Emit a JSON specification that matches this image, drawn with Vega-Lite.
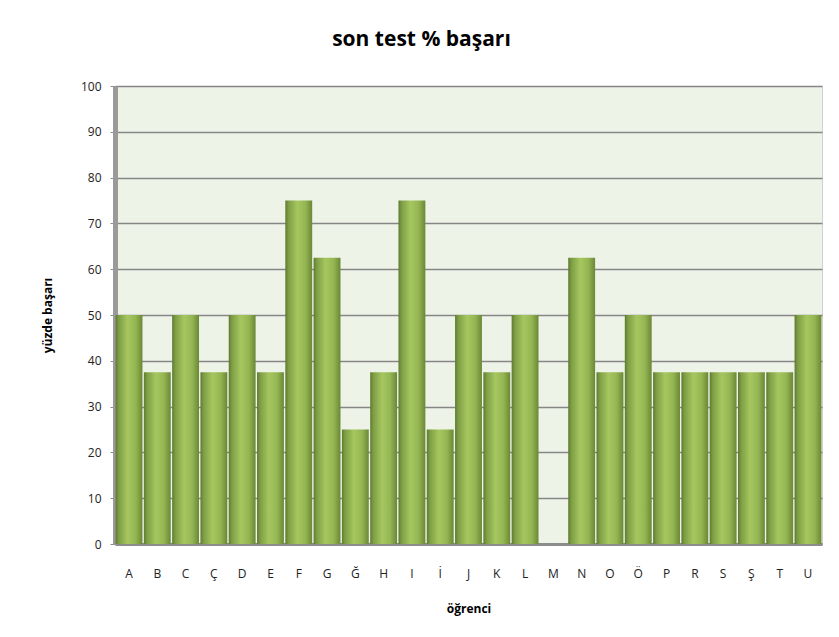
{
  "$schema": "https://vega.github.io/schema/vega-lite/v6.json",
  "autosize": "none",
  "width": 707,
  "height": 458,
  "padding": {"left": 115, "top": 86, "right": 17, "bottom": 93},
  "background": "white",
  "title": {
    "text": "son test % başarı",
    "font": "Open Sans",
    "fontSize": 21,
    "fontWeight": "bold",
    "color": "#000000",
    "anchor": "middle",
    "offset": 30,
    "dx": -47
  },
  "data": {
    "values": [
      {"ogrenci": "A", "basari": 50},
      {"ogrenci": "B", "basari": 37.5},
      {"ogrenci": "C", "basari": 50},
      {"ogrenci": "Ç", "basari": 37.5},
      {"ogrenci": "D", "basari": 50},
      {"ogrenci": "E", "basari": 37.5},
      {"ogrenci": "F", "basari": 75},
      {"ogrenci": "G", "basari": 62.5},
      {"ogrenci": "Ğ", "basari": 25},
      {"ogrenci": "H", "basari": 37.5},
      {"ogrenci": "I", "basari": 75},
      {"ogrenci": "İ", "basari": 25},
      {"ogrenci": "J", "basari": 50},
      {"ogrenci": "K", "basari": 37.5},
      {"ogrenci": "L", "basari": 50},
      {"ogrenci": "M", "basari": 0},
      {"ogrenci": "N", "basari": 62.5},
      {"ogrenci": "O", "basari": 37.5},
      {"ogrenci": "Ö", "basari": 50},
      {"ogrenci": "P", "basari": 37.5},
      {"ogrenci": "R", "basari": 37.5},
      {"ogrenci": "S", "basari": 37.5},
      {"ogrenci": "Ş", "basari": 37.5},
      {"ogrenci": "T", "basari": 37.5},
      {"ogrenci": "U", "basari": 50}
    ]
  },
  "mark": {
    "type": "bar",
    "color": {
      "gradient": "linear",
      "x1": 0, "x2": 1, "y1": 0, "y2": 0,
      "stops": [
        {"offset": 0, "color": "#5E7A30"},
        {"offset": 0.12, "color": "#7E9E45"},
        {"offset": 0.45, "color": "#A6C75F"},
        {"offset": 0.75, "color": "#94B552"},
        {"offset": 1, "color": "#6A8836"}
      ]
    }
  },
  "encoding": {
    "x": {
      "field": "ogrenci",
      "type": "nominal",
      "sort": null,
      "scale": {"paddingInner": 0.05, "paddingOuter": 0.02},
      "axis": {
        "title": "öğrenci",
        "titleFont": "Open Sans",
        "titleFontSize": 12,
        "titleFontWeight": "bold",
        "titleColor": "#000000",
        "titlePadding": 24,
        "labelFont": "Open Sans",
        "labelFontSize": 12,
        "labelColor": "#222222",
        "labelAngle": 0,
        "labelPadding": 24,
        "ticks": false,
        "domainColor": "#8C8C8C",
        "domainWidth": 3
      }
    },
    "y": {
      "field": "basari",
      "type": "quantitative",
      "scale": {"domain": [0, 100], "nice": false},
      "axis": {
        "title": "yüzde başarı",
        "titleFont": "Open Sans",
        "titleFontSize": 12,
        "titleFontWeight": "bold",
        "titleColor": "#000000",
        "titlePadding": 26,
        "labelFont": "Open Sans",
        "labelFontSize": 12,
        "labelColor": "#222222",
        "labelPadding": 9,
        "values": [0, 10, 20, 30, 40, 50, 60, 70, 80, 90, 100],
        "tickSize": 5,
        "tickColor": "#8C8C8C",
        "domainColor": "#9A9A9A",
        "domainWidth": 5,
        "grid": true,
        "gridColor": "#868686",
        "gridWidth": 1.5
      }
    }
  },
  "config": {
    "view": {"fill": "#EEF3E8", "stroke": "#D0D0D0", "strokeWidth": 1}
  }
}
